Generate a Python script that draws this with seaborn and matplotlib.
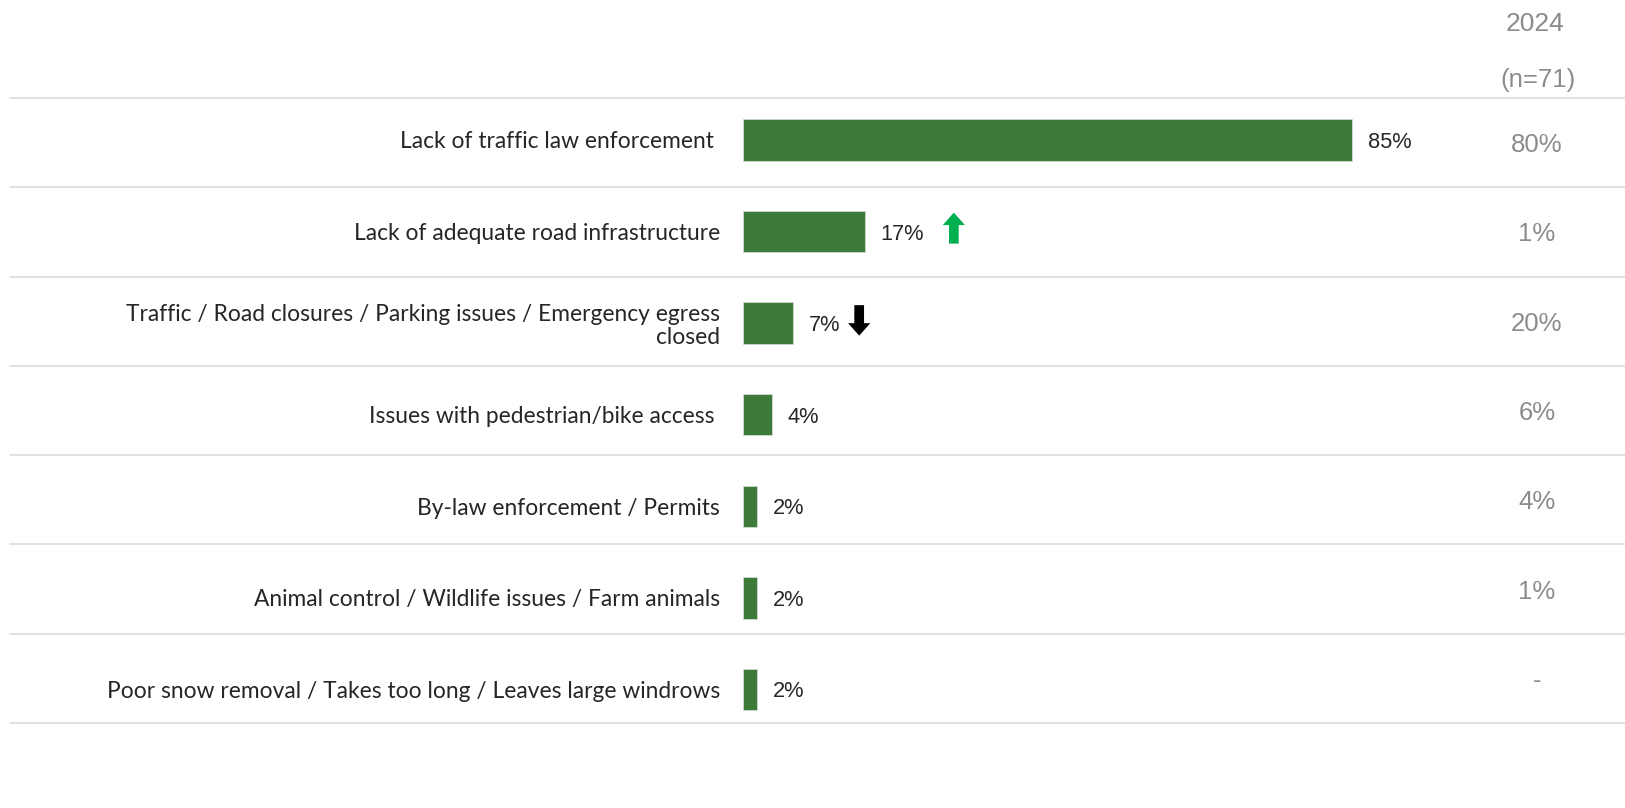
import matplotlib
matplotlib.use("Agg")
import matplotlib.pyplot as plt
import matplotlib.transforms as mtransforms
import seaborn as sns

# Survey responses: top issues (current wave) with prior-year comparison
categories = [
    "Lack of traffic law enforcement ",
    "Lack of adequate road infrastructure",
    "Traffic / Road closures / Parking issues / Emergency egress\nclosed",
    "Issues with pedestrian/bike access ",
    "By-law enforcement / Permits",
    "Animal control / Wildlife issues / Farm animals",
    "Poor snow removal / Takes too long / Leaves large windrows",
]
values_current = [85, 17, 7, 4, 2, 2, 2]
values_2024 = [80, 1, 20, 6, 4, 1, None]
trend = [None, "up", "down", None, None, None, None]
header_year = "2024"
header_n = "(n=71)"

W, H, DPI = 1625, 808, 100
BAR_COLOR = "#3e7b3a"
TEXT_COLOR = "#262626"
GREY = "#8c8c8c"
RULE = "#d9d9d9"

sns.set_theme(style="white")
plt.rcParams["font.family"] = ["Lato", "DejaVu Sans"]

fig = plt.figure(figsize=(W / DPI, H / DPI), dpi=DPI)
fig.patch.set_facecolor("white")

# --- table grid (separator rules and prior-year column) ---
g_top, g_bot = 98, 723
gax = fig.add_axes([10 / W, (H - g_bot) / H, (W - 10) / W, (g_bot - g_top) / H])
gax.set_xlim(0, 1)
gax.set_ylim(len(categories), 0)
gax.axis("off")
for k in range(len(categories) + 1):
    gax.axhline(k, color=RULE, lw=1.1, clip_on=False)

col_tr = mtransforms.blended_transform_factory(fig.transFigure, gax.transData)
col_x = 1537 / W
for i, v in enumerate(values_2024):
    label = f"{v}%" if v is not None else "-"
    gax.text(col_x, i + 0.5, label, transform=col_tr, ha="center",
             va="center_baseline", fontsize=18.5, color=GREY,
             family=["Liberation Sans", "DejaVu Sans"])

fig.text(1535 / W, 1 - 24 / H, header_year, ha="center", va="center",
         fontsize=19, color=GREY, family=["Liberation Sans", "DejaVu Sans"])
fig.text(1538 / W, 1 - 80 / H, header_n, ha="center", va="center",
         fontsize=18.5, color=GREY, family=["Liberation Sans", "DejaVu Sans"])

# --- bars ---
first_c, step = 140.0, 91.58
top_px = first_c - step / 2
bot_px = first_c + step * (len(categories) - 0.5)
x0_px = 743
px_per_pct = (1352.3 - x0_px) / 85
ax = fig.add_axes([x0_px / W, (H - bot_px) / H, (W - x0_px) / W, (bot_px - top_px) / H])
ax.patch.set_alpha(0)

sns.barplot(x=values_current, y=categories, orient="h", color=BAR_COLOR,
            saturation=1, width=41.5 / step, edgecolor="#cfdccf", linewidth=0.6,
            ax=ax)
ax.set_xlim(0, (W - x0_px) / px_per_pct)
ax.set_ylim(len(categories) - 0.5, -0.5)
ax.set_xlabel("")
ax.set_ylabel("")
ax.set_xticks([])
for s in ax.spines.values():
    s.set_visible(False)
ax.tick_params(axis="y", length=0, pad=16.5, labelsize=16.4, labelcolor=TEXT_COLOR)
for lbl in ax.get_yticklabels():
    lbl.set_linespacing(1.12)

def shifted(dx, dy):
    return mtransforms.offset_copy(ax.transData, fig=fig, x=dx, y=dy, units="dots")

for i, v in enumerate(values_current):
    ax.text(v, i, f"{v}%", transform=shifted(16, 0), ha="left",
            va="center_baseline", fontsize=15.7, color=TEXT_COLOR,
            family=["Liberation Sans", "DejaVu Sans"])

# significance arrows next to the value labels
arrow_style = {
    "up": dict(dx=89, tip=19, tail=-12, color="#00b050"),
    "down": dict(dx=66, tip=-12.5, tail=18, color="#000000"),
}
for i, (v, t) in enumerate(zip(values_current, trend)):
    if t is None:
        continue
    st = arrow_style[t]
    ax.annotate("", xy=(v, i), xycoords=shifted(st["dx"], st["tip"]),
                xytext=(v, i), textcoords=shifted(st["dx"], st["tail"]),
                arrowprops=dict(arrowstyle="simple,head_width=16,head_length=9,tail_width=7",
                                mutation_scale=1, color=st["color"], lw=0,
                                shrinkA=0, shrinkB=0))

fig.savefig("out.png", dpi=DPI, facecolor="white")
